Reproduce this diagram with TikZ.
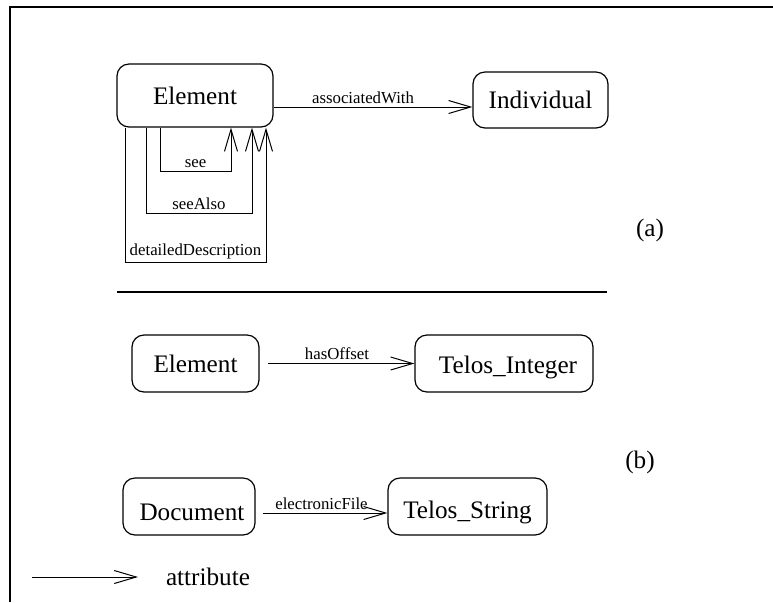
\documentclass[tikz,border=0pt]{standalone}
\usepackage{fontspec}
\setmainfont{Liberation Serif}
\usepackage{tikz}
\usetikzlibrary{arrows.meta,calc}

\begin{document}
\begin{tikzpicture}[x=0.5pt, y=-0.5pt,
        >={Straight Barb[length=11pt,width=6.5pt]},
        box/.style={draw, rounded corners=6pt, line width=0.6pt, inner sep=0pt,
            font=\fontsize{12.6}{15}\selectfont},
        attr/.style={->, line width=0.5pt},
        lbl/.style={inner sep=1.5pt, font=\fontsize{8.4}{10}\selectfont},
        tag/.style={font=\fontsize{12.6}{15}\selectfont}]
        \useasboundingbox (0,0) rectangle (773,602);
        \draw[line width=1pt] (10,602) -- (10,7) -- (773,7);

        % (a)
        \node[box, minimum width=78pt, minimum height=31.5pt] (elA) at (195,95.5) {Element};
        \node[box, minimum width=67.5pt, minimum height=28pt] (indiv) at (540.5,100) {Individual};
        \draw[attr] (elA.east |- 0,107) -- node[lbl, pos=0.45, above]{associatedWith} (indiv.west |- 0,107);

        \draw[attr] ($(elA.south)+(-35,0)$) |- node[lbl, pos=0.75, above]{see}
            ($(elA.south)+(36,44)$) -- ($(elA.south)+(36,0)$);
        \draw[attr] ($(elA.south)+(-49,0)$) |- node[lbl, pos=0.75, above]{seeAlso}
            ($(elA.south)+(57,86)$) -- ($(elA.south)+(57,0)$);
        \draw[attr] ($(elA.south)+(-70,0)$) |- node[lbl, pos=0.75, above]{detailedDescription}
            ($(elA.south)+(71,135)$) -- ($(elA.south)+(71,0)$);

        \node[tag] (tagA) at (650,230) {(a)};

        \draw[line width=0.6pt] (117,292) -- (607,292);

        % (b)
        \node[box, minimum width=63.5pt, minimum height=28.5pt] (elB) at (195.5,363.5) {Element};
        \node[box, minimum width=89pt, minimum height=28.5pt] (tInt) at (504,363.5)
            {\raisebox{-2pt}[\height][\depth]{\hspace{4pt}Telos\_Integer}};
        \draw[attr, shorten <=4pt] (elB) -- node[lbl, above]{hasOffset} (tInt);

        \node[box, minimum width=66pt, minimum height=28.5pt] (doc) at (189,506.5)
            {\raisebox{-3pt}[\height][\depth]{\hspace{3pt}Document}};
        \node[box, minimum width=79.5pt, minimum height=28.5pt] (tStr) at (467.5,506.5)
            {\raisebox{-3pt}[\height][\depth]{Telos\_String}};
        \draw[attr, shorten <=3.5pt] (doc.east |- 0,513) -- node[lbl, above]{electronicFile} (tStr.west |- 0,513);

        \node[tag] (tagB) at (640,462) {(b)};

        % legend
        \coordinate (legS) at (32,577);
        \coordinate (legE) at (138,577);
        \draw[attr] (legS) -- (legE);
        \node[tag] (legTxt) at (208,577) {attribute};
\end{tikzpicture}
\end{document}
